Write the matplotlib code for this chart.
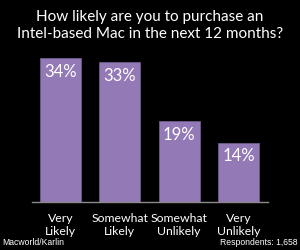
import matplotlib
matplotlib.use("Agg")
import matplotlib.pyplot as plt

categories = ["Very\nLikely", "Somewhat\nLikely", "Somewhat\nUnlikely", "Very\nUnlikely"]
values = [34, 33, 19, 14]
title = "How likely are you to purchase an\nIntel-based Mac in the next 12 months?"
source = "Macworld/Karlin"
respondents = "Respondents: 1,658"

bar_color = "#9379b6"
fig = plt.figure(figsize=(3.0, 2.5), dpi=100, facecolor="black")
ax = fig.add_axes([0.1067, 0.193, 0.787, 0.575], facecolor="black")
x = list(range(len(values)))
ax.bar(x, values, width=0.69, color=bar_color, edgecolor="#6e5a8a", linewidth=0.6, zorder=2)
ax.set_xlim(-0.48, 3.5)
ax.set_ylim(0, 34)
for s in ["top", "right", "left"]:
    ax.spines[s].set_visible(False)
ax.spines["bottom"].set_color("#8a8a8a")
ax.spines["bottom"].set_linewidth(1.0)
ax.spines["bottom"].set_zorder(3)
ax.set_yticks([])
ax.set_xticks(x)
ax.set_xticklabels(categories, color="white", fontsize=8.8, family="Lato", linespacing=1.2)
ax.tick_params(axis="x", length=0, pad=8)
for xi, v in zip(x, values):
    ax.annotate(f"{v}%", (xi, v), xytext=(0, -4), textcoords="offset points",
                ha="center", va="top", color="white", fontsize=12, family="Lato")

fig.text(0.5, 0.962, title, ha="center", va="top", color="white", fontsize=11,
         family="Lato", linespacing=1.35)
fig.text(0.007, 0.03, source, ha="left", va="center", color="white", fontsize=6.2,
         family="Liberation Sans")
fig.text(0.993, 0.03, respondents, ha="right", va="center", color="white", fontsize=6.2,
         family="Liberation Sans")
fig.savefig("out.png", dpi=100, facecolor="black")
